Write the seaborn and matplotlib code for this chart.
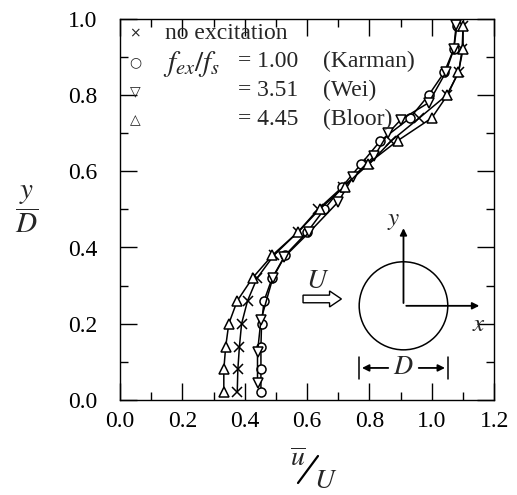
import matplotlib
matplotlib.use("Agg")
import matplotlib.pyplot as plt
import matplotlib.patches as mpatches
from matplotlib.lines import Line2D
import seaborn as sns
import pandas as pd

# ── data ─────────────────────────────────────────────────────────────────────
y_grid = [0.02, 0.08, 0.14, 0.20, 0.26, 0.32, 0.38, 0.44, 0.50,
          0.56, 0.62, 0.68, 0.74, 0.80, 0.86, 0.92, 0.98]
u_none = [0.376, 0.378, 0.383, 0.390, 0.409, 0.440, 0.494, 0.570, 0.635,
          0.715, 0.800, 0.870, 0.960, 1.048, 1.086, 1.097, 1.100]
u_karman = [0.452, 0.452, 0.452, 0.454, 0.462, 0.488, 0.530, 0.600, 0.655,
            0.713, 0.774, 0.835, 0.930, 0.990, 1.040, 1.070, 1.080]
u_bloor = [0.333, 0.333, 0.339, 0.349, 0.376, 0.425, 0.489, 0.570, 0.640,
           0.720, 0.795, 0.890, 1.000, 1.050, 1.085, 1.100, 1.100]
y_wei = [0.045, 0.125, 0.21, 0.32, 0.375, 0.44, 0.52, 0.585, 0.64,
         0.70, 0.735, 0.78, 0.86, 0.92, 0.985]
u_wei = [0.441, 0.441, 0.452, 0.490, 0.527, 0.607, 0.700, 0.747, 0.816,
         0.860, 0.900, 0.990, 1.045, 1.070, 1.078]

x_ticks = [0.0, 0.2, 0.4, 0.6, 0.8, 1.0, 1.2]
y_ticks = [0.0, 0.2, 0.4, 0.6, 0.8, 1.0]

# inset sketch (cylinder)
cyl_x, cyl_y = 0.909, 0.247
cyl_rx, cyl_ry = 0.142, 0.1155

sns.set_theme(style="ticks")
plt.rcParams["font.family"] = ["Liberation Serif", "DejaVu Sans"]
plt.rcParams["mathtext.fontset"] = "stix"

fig = plt.figure(figsize=(5.17, 4.95), dpi=100, facecolor="white")
ax = fig.add_axes([0.232, 0.192, 0.724, 0.77])
ax.set_facecolor("white")

series = [
    (u_none, y_grid, "x", 6.5),
    (u_karman, y_grid, "o", 6.5),
    (u_wei, y_wei, "v", 7),
    (u_bloor, y_grid, "^", 7),
]
for xs, ys, mk, ms in series:
    df = pd.DataFrame({"u": xs, "y": ys})
    sns.lineplot(data=df, x="u", y="y", sort=False, estimator=None,
                 color="black", lw=1.1, marker=mk, markersize=ms,
                 markerfacecolor="white" if mk != "x" else "black",
                 markeredgecolor="black", markeredgewidth=1.1, ax=ax)

ax.set_xlim(0, 1.2)
ax.set_ylim(0, 1.0)
ax.set_xticks(x_ticks)
ax.set_yticks(y_ticks)
ax.set_xticks([0.1, 0.3, 0.5, 0.7, 0.9, 1.1], minor=True)
ax.set_yticks([0.1, 0.3, 0.5, 0.7, 0.9], minor=True)
ax.set_xticklabels([f"{t:.1f}" for t in x_ticks])
ax.set_yticklabels([f"{t:.1f}" for t in y_ticks])
ax.tick_params(which="both", direction="in", top=True, right=True,
               colors="black", labelsize=17, width=1.0)
ax.tick_params(which="major", length=12)
ax.tick_params(axis="x", which="major", pad=8)
ax.tick_params(axis="y", which="major", pad=16)
ax.tick_params(which="minor", length=6)
for s in ax.spines.values():
    s.set_color("black")
    s.set_linewidth(1.0)
ax.set_xlabel("")
ax.set_ylabel("")

# legend drawn by hand to keep the aligned columns
rows = [0.962, 0.887, 0.811, 0.735]
syms = ["×", "○", "▽", "△"]
for r, sy in zip(rows, syms):
    ax.text(0.04, r, sy, transform=ax.transAxes, ha="center", va="center",
            fontsize=10, family="DejaVu Sans")
tk = dict(transform=ax.transAxes, va="center", fontsize=17)
ax.text(0.12, rows[0], "no excitation", **tk)
ax.text(0.115, rows[1] - 0.005, r"$f_{ex}/f_s$", transform=ax.transAxes,
        va="center", fontsize=21)
for r, val, who in zip(rows[1:], ["1.00", "3.51", "4.45"],
                       ["(Karman)", "(Wei)", "(Bloor)"]):
    ax.text(0.316, r, f"= {val}", **tk)
    ax.text(0.543, r, who, **tk)

# inset: cylinder with coordinate axes
ax.add_patch(mpatches.Ellipse((cyl_x, cyl_y), 2 * cyl_rx, 2 * cyl_ry,
                              fill=False, ec="black", lw=1.1))
arr = dict(arrowstyle="-|>", color="black", lw=1.3, mutation_scale=10)
ax.annotate("", xy=(cyl_x, 0.458), xytext=(cyl_x, cyl_y), arrowprops=arr)
ax.annotate("", xy=(1.161, cyl_y), xytext=(cyl_x, cyl_y), arrowprops=arr)
ax.text(0.878, 0.47, "$y$", ha="center", va="center", fontsize=18)
ax.text(1.152, 0.197, "$x$", ha="center", va="center", fontsize=18)

# diameter marker |<-D->|
d_y = 0.084
xl, xr = cyl_x - cyl_rx, cyl_x + cyl_rx
ax.plot([xl, xl], [d_y - 0.03, d_y + 0.03], color="black", lw=1.1)
ax.plot([xr, xr], [d_y - 0.03, d_y + 0.03], color="black", lw=1.1)
ax.annotate("", xy=(xl, d_y), xytext=(cyl_x - 0.04, d_y), arrowprops=arr)
ax.annotate("", xy=(xr, d_y), xytext=(cyl_x + 0.04, d_y), arrowprops=arr)
ax.text(cyl_x, d_y, "$D$", ha="center", va="center", fontsize=19)

# free stream arrow U
ax.add_patch(mpatches.FancyArrow(0.587, 0.265, 0.085, 0, width=0.02,
                                 head_width=0.042, head_length=0.038,
                                 length_includes_head=False,
                                 fc="white", ec="black", lw=1.0))
ax.text(0.635, 0.31, "$U$", ha="center", va="center", fontsize=20)

# axis labels
fig.text(0.052, 0.576, r"$\dfrac{y}{D}$", ha="center", va="center",
         fontsize=21)
fig.text(298 / 517, 1 - 460 / 495, r"$\overline{u}$", ha="center",
         va="center", fontsize=20)
fig.add_artist(Line2D([298 / 517, 318 / 517], [1 - 483 / 495, 1 - 456 / 495],
                      transform=fig.transFigure, color="black", lw=1.6))
fig.text(326 / 517, 1 - 482 / 495, "$U$", ha="center", va="center",
         fontsize=20)

fig.savefig("out.png", dpi=100, facecolor="white")
